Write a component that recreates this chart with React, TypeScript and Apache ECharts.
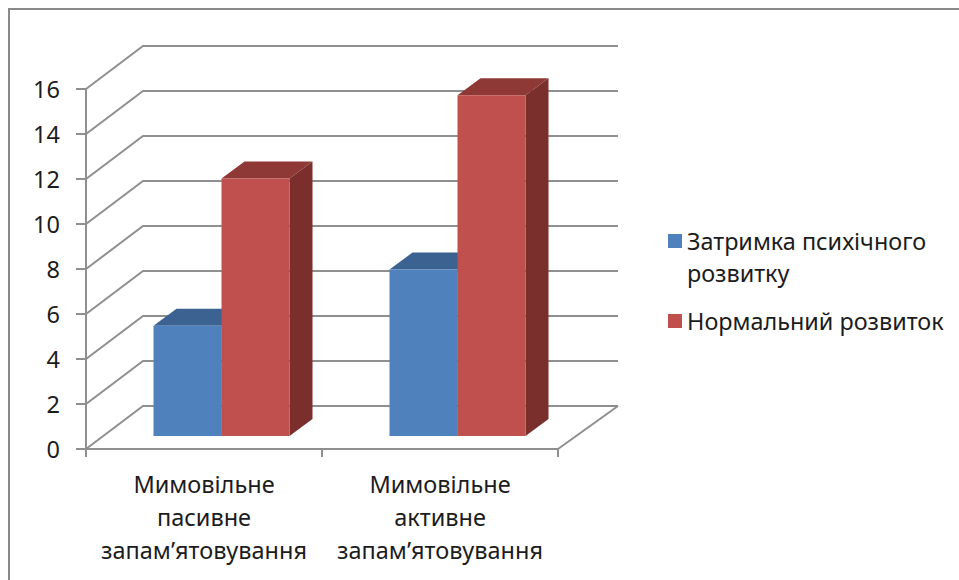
import React, { useEffect, useRef } from "react";
import * as echarts from "echarts";

const categories = ["Мимовільне\nпасивне\nзапам’ятовування", "Мимовільне\nактивне\nзапам’ятовування"];
const seriesNames = ["Затримка психічного\nрозвитку", "Нормальний розвиток"];
const delayValues = [4.9, 7.4];
const normalValues = [11.45, 15.15];
const yTicks = [0, 2, 4, 6, 8, 10, 12, 14, 16];

const frontColors = ["#4f81bd", "#c0504d"];
const topColors = ["#3b6291", "#8f3937"];
const sideColors = ["#335680", "#7a2f2d"];
const lineColor = "#8f8f8f";
const textColor = "#1c1c1c";
const fontFamily = "'Noto Sans', 'Open Sans', sans-serif";

const WALL_DX = 58;
const WALL_DY = 43;
const FLOOR_DX = 17.5;
const FLOOR_DY = 13;
const BAR_WIDTH = 68;
const BAR_DX = 23;
const BAR_DY = 17;

function wallRenderer(params: any, api: any) {
  const v = api.value(1);
  const rect = params.coordSys;
  const y = api.coord([0, v])[1];
  const style = { stroke: lineColor, lineWidth: 2, fill: "none" };
  const children: any[] = [
    {
      type: "polyline",
      shape: {
        points: [
          [rect.x, y],
          [rect.x + WALL_DX - 1, y - WALL_DY],
          [rect.x + rect.width + WALL_DX + 2, y - WALL_DY],
        ],
      },
      style,
    },
  ];
  if (v === 0) {
    children.push({
      type: "line",
      shape: { x1: rect.x + rect.width, y1: y, x2: rect.x + rect.width + WALL_DX + 2, y2: y - WALL_DY },
      style,
    });
  }
  return { type: "group", children };
}

function barRenderer(seriesIndex: number) {
  return (params: any, api: any) => {
    const cat = api.value(0);
    const val = api.value(1);
    const c = api.coord([cat, 0]);
    const t = api.coord([cat, val]);
    const x0 = c[0] + FLOOR_DX + (seriesIndex === 0 ? -BAR_WIDTH : 0);
    const x1 = x0 + BAR_WIDTH;
    const yb = c[1] - FLOOR_DY;
    const yt = t[1] - FLOOR_DY;
    return {
      type: "group",
      children: [
        {
          type: "polygon",
          shape: { points: [[x0, yt], [x0 + BAR_DX, yt - BAR_DY], [x1 + BAR_DX, yt - BAR_DY], [x1, yt]] },
          style: { fill: topColors[seriesIndex] },
        },
        {
          type: "polygon",
          shape: { points: [[x1, yt], [x1 + BAR_DX, yt - BAR_DY], [x1 + BAR_DX, yb - BAR_DY], [x1, yb]] },
          style: { fill: sideColors[seriesIndex] },
        },
        {
          type: "rect",
          shape: { x: x0, y: yt, width: BAR_WIDTH, height: yb - yt },
          style: { fill: frontColors[seriesIndex] },
        },
      ],
    };
  };
}

export default function App() {
  const ref = useRef<HTMLDivElement>(null);
  useEffect(() => {
    const chart = echarts.init(ref.current!, null, { renderer: "svg" });
    chart.setOption({
      animation: false,
      backgroundColor: "#ffffff",
      textStyle: { fontFamily },
      graphic: [
        {
          type: "rect",
          silent: true,
          shape: { x: 9, y: 9, width: 970, height: 600 },
          style: { fill: "none", stroke: "#8a8a8a", lineWidth: 2 },
        },
      ],
      legend: {
        orient: "vertical",
        left: 668,
        top: 193,
        padding: 0,
        itemWidth: 14,
        itemHeight: 14,
        itemGap: 16,
        icon: "rect",
        selectedMode: false,
        data: seriesNames,
        formatter: (name: string) => (name.includes("\n") ? "\n" + name : name),
        textStyle: { fontFamily, fontSize: 23.4, color: textColor, lineHeight: 32 },
      },
      grid: { left: 86, top: 89, width: 472, height: 360, containLabel: false },
      xAxis: {
        type: "category",
        data: categories,
        axisLine: { lineStyle: { color: lineColor, width: 2 } },
        axisTick: { show: true, alignWithLabel: false, length: 8, lineStyle: { color: lineColor, width: 2 } },
        axisLabel: { interval: 0, margin: 18, fontFamily, fontSize: 23.5, color: textColor, lineHeight: 33 },
        splitLine: { show: false },
      },
      yAxis: {
        type: "value",
        min: 0,
        max: 16,
        interval: 2,
        axisLine: { show: true, lineStyle: { color: lineColor, width: 2 } },
        axisTick: { show: true, length: 10, lineStyle: { color: lineColor, width: 2 } },
        axisLabel: { margin: 26, fontFamily, fontSize: 23.5, color: textColor },
        splitLine: { show: false },
      },
      series: [
        {
          type: "custom",
          name: "wall",
          silent: true,
          renderItem: wallRenderer,
          data: yTicks.map((v) => [0, v]),
          encode: { x: 0, y: 1 },
          clip: false,
          z: 1,
        },
        {
          type: "custom",
          name: seriesNames[0],
          renderItem: barRenderer(0),
          data: delayValues.map((v, i) => [i, v]),
          encode: { x: 0, y: 1 },
          itemStyle: { color: frontColors[0] },
          clip: false,
          z: 2,
        },
        {
          type: "custom",
          name: seriesNames[1],
          renderItem: barRenderer(1),
          data: normalValues.map((v, i) => [i, v]),
          encode: { x: 0, y: 1 },
          itemStyle: { color: frontColors[1] },
          clip: false,
          z: 3,
        },
      ],
    });
    return () => chart.dispose();
  }, []);
  return (
    <div
      ref={ref}
      style={{ position: "absolute", left: 0, top: 0, width: 959, height: 580 }}
    />
  );
}
